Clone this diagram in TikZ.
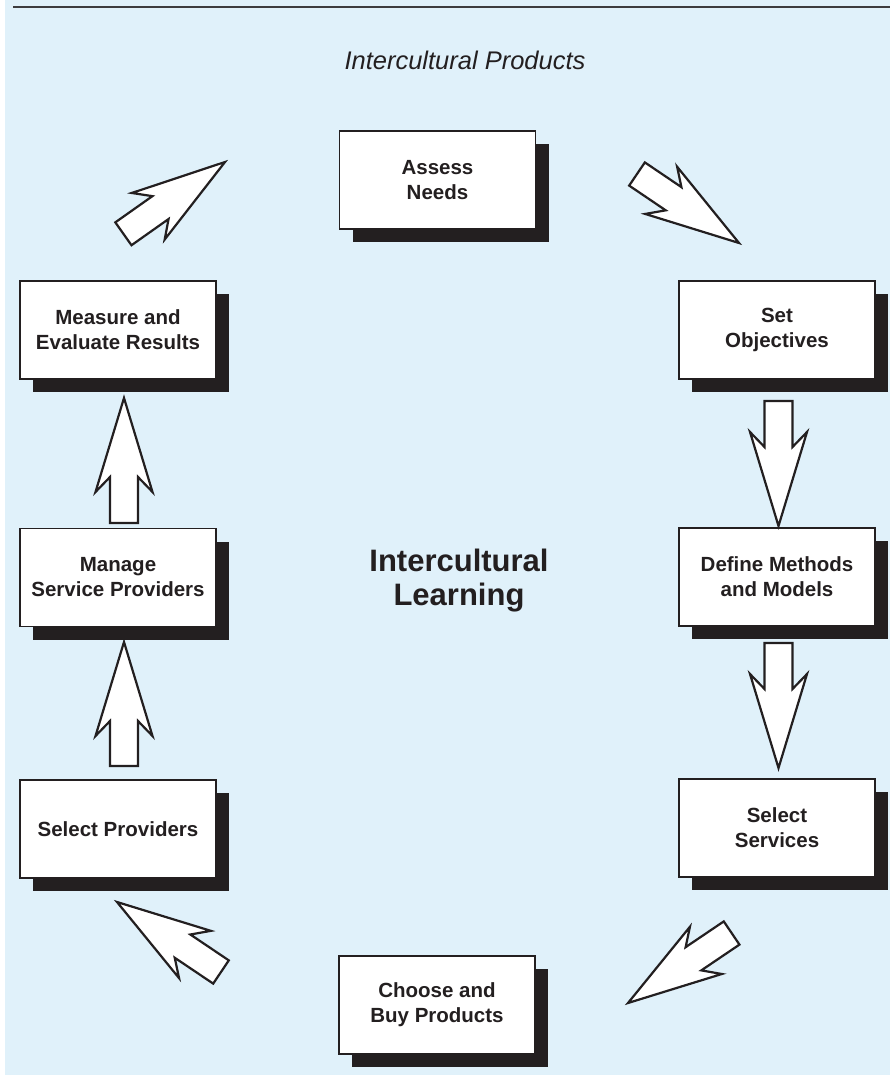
\documentclass[tikz,border=0pt]{standalone}
\usepackage{fontspec}
\setmainfont{Liberation Sans}
\usetikzlibrary{calc}

\definecolor{panel}{RGB}{224,241,250}
\definecolor{ink}{RGB}{35,31,32}
\definecolor{rulegray}{RGB}{60,60,62}

\tikzset{
  stepbox/.style={draw=ink, line width=1.7pt, fill=white,
    minimum width=196pt, minimum height=98pt, inner sep=0pt,
    align=center, text=ink, font=\bfseries\fontsize{20.5}{25}\selectfont,
    preaction={fill=ink, transform canvas={xshift=13pt, yshift=-13pt}}},
  blockarrow/.style={draw=ink, line width=2.2pt, fill=white, line join=miter},
}

% hollow block arrow from tail coordinate #1 to tip coordinate #2
\newcommand\flowarrow[2]{%
  \path let \p1=(#1), \p2=(#2),
            \n1={atan2(\y2-\y1,\x2-\x1)},
            \n2={veclen(\x2-\x1,\y2-\y1)} in
    \pgfextra{\xdef\flowang{\n1}\xdef\flowlen{\n2}};
  \draw[blockarrow, shift={(#2)}, rotate=\flowang]
    (0,0) -- (-94,28.5) -- (-79,14) -- (-\flowlen,14) --
    (-\flowlen,-14) -- (-79,-14) -- (-94,-28.5) -- cycle;
}

\begin{document}
\begin{tikzpicture}[x=1pt, y=-1pt]
  \useasboundingbox (0,0) rectangle (890,1075);
  \fill[panel] (4.5,0) rectangle (890,1075);
  \draw[rulegray, line width=2pt] (13,7.3) -- (890,7.3);

  \node[font=\itshape\fontsize{25.5}{30}\selectfont, text=ink, anchor=base]
    (title) at (465,70) {Intercultural Products};

  \node[font=\bfseries\fontsize{31}{34}\selectfont, text=ink, align=center]
    (hub) at (459,581) {Intercultural\\Learning};

  % process steps
  \node[stepbox] (assess)    at (437.5,180) {Assess\\Needs};
  \node[stepbox] (objectives) at (777,330)  {Set\\Objectives};
  \node[stepbox] (methods)   at (777,577)   {Define Methods\\and Models};
  \node[stepbox] (services)  at (777,828)   {Select\\Services};
  \node[stepbox] (buy)       at (437,1005)  {Choose and\\Buy Products};
  \node[stepbox] (providers) at (118,829)   {Select Providers};
  \node[stepbox] (manage)    at (118,577.5) {Manage\\Service Providers};
  \node[stepbox] (measure)   at (118,330)   {Measure and\\Evaluate Results};

  % arrow ends
  \coordinate (a1s) at (637,174);   \coordinate (a1e) at (739,243);
  \coordinate (a2s) at (778.5,401); \coordinate (a2e) at (778.5,526);
  \coordinate (a3s) at (778.5,643); \coordinate (a3e) at (778.5,768);
  \coordinate (a4s) at (731.6,933); \coordinate (a4e) at (628,1003);
  \coordinate (a5s) at (221,972);   \coordinate (a5e) at (117,902);
  \coordinate (a6s) at (124,766);   \coordinate (a6e) at (124,642);
  \coordinate (a7s) at (124,523);   \coordinate (a7e) at (124,398);
  \coordinate (a8s) at (123.4,233.8); \coordinate (a8e) at (225,162);

  \flowarrow{a1s}{a1e}
  \flowarrow{a2s}{a2e}
  \flowarrow{a3s}{a3e}
  \flowarrow{a4s}{a4e}
  \flowarrow{a5s}{a5e}
  \flowarrow{a6s}{a6e}
  \flowarrow{a7s}{a7e}
  \flowarrow{a8s}{a8e}
\end{tikzpicture}
\end{document}
